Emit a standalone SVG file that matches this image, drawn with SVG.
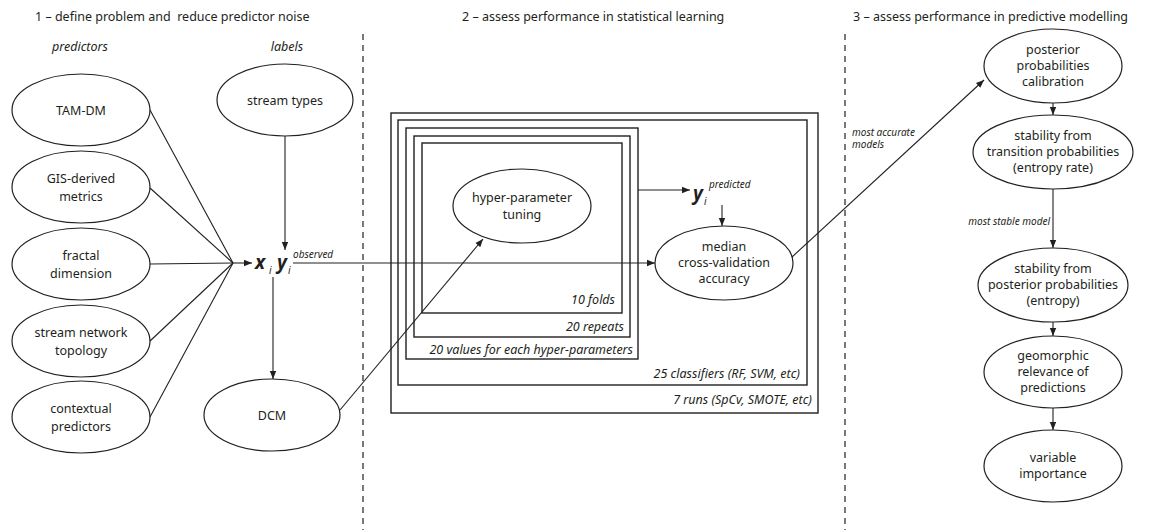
<svg xmlns="http://www.w3.org/2000/svg" width="1153" height="530" viewBox="0 0 1153 530">
<style>
text{font-family:"Noto Sans","Open Sans",sans-serif;fill:#231f20;}
.h{font-size:12.5px;}
.t{font-size:12.5px;text-anchor:middle;}
.it{font-style:italic;}
.s{font-size:10px;font-style:italic;}
.bl{font-size:12.5px;font-style:italic;text-anchor:end;}
.v{font-size:19px;font-weight:bold;font-style:italic;}
ellipse{fill:none;stroke:#231f20;stroke-width:1.2;}
.b{fill:none;stroke:#231f20;stroke-width:1.4;}
.c line{stroke:#231f20;stroke-width:1.1;fill:none;}
.d{stroke:#231f20;stroke-width:1.2;stroke-dasharray:6 5;}
</style>
<defs>
<marker id="a" viewBox="0 0 10 10" refX="10" refY="5" markerWidth="8" markerHeight="8" markerUnits="userSpaceOnUse" orient="auto">
<path d="M0,1 L10,5 L0,9 z" fill="#231f20"/>
</marker>
</defs>
<rect width="1153" height="530" fill="#fff"/>

<!-- headings -->
<text class="h" x="35" y="21">1 – define problem and&#160; reduce predictor noise</text>
<text class="h" x="462" y="21">2 – assess performance in statistical learning</text>
<text class="h" x="853" y="21">3 – assess performance in predictive modelling</text>
<text class="t it" x="80" y="51">predictors</text>
<text class="t it" x="287" y="51">labels</text>

<line class="d" x1="363" y1="34" x2="363" y2="530"/>
<line class="d" x1="845" y1="34" x2="845" y2="530"/>

<!-- boxes -->
<g id="box-runs"><rect class="b" x="391" y="113" width="427" height="300"/><text class="bl" x="812" y="404">7 runs (SpCv, SMOTE, etc)</text></g>
<g id="box-classifiers"><rect class="b" x="398" y="120" width="409" height="265"/><text class="bl" x="800" y="378">25 classifiers (RF, SVM, etc)</text></g>
<g id="box-values"><rect class="b" x="406" y="128" width="232" height="231"/><text class="bl" x="633" y="354">20 values for each hyper-parameters</text></g>
<g id="box-repeats"><rect class="b" x="414" y="136" width="216" height="201"/><text class="bl" x="624" y="331">20 repeats</text></g>
<g id="box-folds"><rect class="b" x="422" y="143" width="200" height="170"/><text class="bl" x="615" y="304">10 folds</text></g>

<!-- left nodes -->
<g id="tam"><ellipse cx="81" cy="110" rx="69" ry="36"/><text class="t" x="81" y="115">TAM-DM</text></g>
<g id="gis"><ellipse cx="81" cy="187" rx="69" ry="36"/><text class="t" x="81" y="183">GIS-derived</text><text class="t" x="81" y="201">metrics</text></g>
<g id="fractal"><ellipse cx="81" cy="264" rx="69" ry="36"/><text class="t" x="81" y="260">fractal</text><text class="t" x="81" y="278">dimension</text></g>
<g id="network"><ellipse cx="81" cy="341" rx="69" ry="36"/><text class="t" x="81" y="337">stream network</text><text class="t" x="81" y="355">topology</text></g>
<g id="contextual"><ellipse cx="81" cy="417" rx="69" ry="36"/><text class="t" x="81" y="413">contextual</text><text class="t" x="81" y="431">predictors</text></g>
<g id="streamtypes"><ellipse cx="285" cy="100" rx="68" ry="36"/><text class="t" x="285" y="105">stream types</text></g>
<g id="dcm"><ellipse cx="272" cy="415" rx="68" ry="36"/><text class="t" x="272" y="420">DCM</text></g>

<g id="xy">
<text class="v" x="255" y="269">x</text><text class="s" x="269" y="274">i</text>
<text class="v" x="277" y="269">y</text><text class="s" x="288" y="274">i</text>
<text class="s" x="293" y="258">observed</text>
</g>

<g id="tuning"><ellipse cx="522" cy="206" rx="69" ry="37"/><text class="t" x="522" y="202">hyper-parameter</text><text class="t" x="522" y="219">tuning</text></g>
<g id="ypred">
<text class="v" x="693" y="200">y</text><text class="s" x="704" y="205">i</text>
<text class="s" x="709" y="188">predicted</text>
</g>
<g id="median"><ellipse cx="724" cy="263" rx="69" ry="37"/><text class="t" x="724" y="251">median</text><text class="t" x="724" y="267">cross-validation</text><text class="t" x="724" y="283">accuracy</text></g>

<!-- right nodes -->
<g id="calibration"><ellipse cx="1053" cy="66" rx="69" ry="37"/><text class="t" x="1053" y="54">posterior</text><text class="t" x="1053" y="70">probabilities</text><text class="t" x="1053" y="86">calibration</text></g>
<g id="transition"><ellipse cx="1053" cy="152" rx="80" ry="37"/><text class="t" x="1053" y="140">stability from</text><text class="t" x="1053" y="156">transition probabilities</text><text class="t" x="1053" y="172">(entropy rate)</text></g>
<g id="entropy"><ellipse cx="1053" cy="285" rx="75" ry="37"/><text class="t" x="1053" y="273">stability from</text><text class="t" x="1053" y="289">posterior probabilities</text><text class="t" x="1053" y="305">(entropy)</text></g>
<g id="geomorphic"><ellipse cx="1053" cy="372" rx="69" ry="36"/><text class="t" x="1053" y="360">geomorphic</text><text class="t" x="1053" y="376">relevance of</text><text class="t" x="1053" y="392">predictions</text></g>
<g id="importance"><ellipse cx="1053" cy="466" rx="69" ry="36"/><text class="t" x="1053" y="462">variable</text><text class="t" x="1053" y="478">importance</text></g>

<text class="s" x="852" y="136">most accurate</text>
<text class="s" x="852" y="148">models</text>
<text class="s" x="1050" y="225" text-anchor="end">most stable model</text>

<g class="c" id="connectors">
<line x1="150" y1="110" x2="233" y2="263"/>
<line x1="150" y1="188" x2="233" y2="263"/>
<line x1="150" y1="264" x2="233" y2="263"/>
<line x1="150" y1="341" x2="233" y2="263"/>
<line x1="150" y1="417" x2="233" y2="263"/>
<line x1="233" y1="263" x2="252" y2="263" marker-end="url(#a)"/>
<line x1="285" y1="136" x2="285" y2="250" marker-end="url(#a)"/>
<line x1="273" y1="277" x2="273" y2="379" marker-end="url(#a)"/>
<line x1="293" y1="263" x2="655" y2="263" marker-end="url(#a)"/>
<line x1="340" y1="410" x2="483" y2="239" marker-end="url(#a)"/>
<line x1="638" y1="190" x2="690" y2="190" marker-end="url(#a)"/>
<line x1="722" y1="205" x2="722" y2="226" marker-end="url(#a)"/>
<line x1="792" y1="257" x2="984" y2="80" marker-end="url(#a)"/>
<line x1="1053" y1="103" x2="1053" y2="115" marker-end="url(#a)"/>
<line x1="1053" y1="189" x2="1053" y2="248" marker-end="url(#a)"/>
<line x1="1053" y1="322" x2="1053" y2="336" marker-end="url(#a)"/>
<line x1="1053" y1="408" x2="1053" y2="430" marker-end="url(#a)"/>
</g>
</svg>
